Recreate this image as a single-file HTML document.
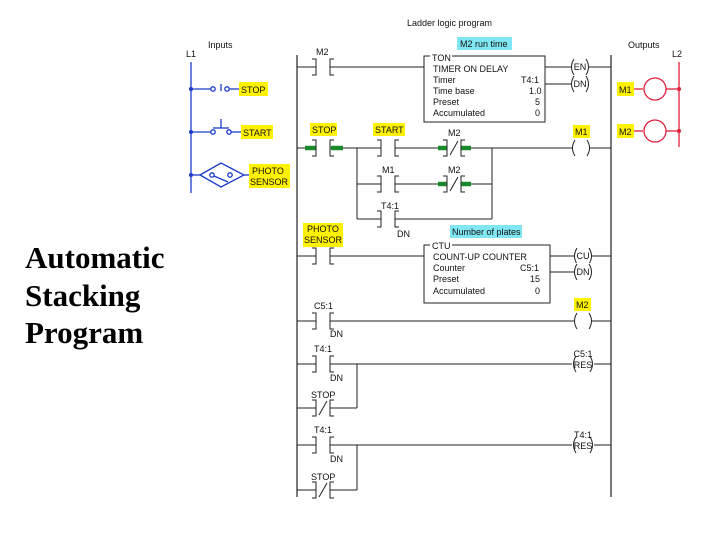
<!DOCTYPE html>
<html><head><meta charset="utf-8"><style>
html,body{margin:0;padding:0;background:#fff}
svg{display:block}
text{font-family:"Liberation Sans",Arial,sans-serif;font-size:9px;fill:#111}
.m{text-anchor:middle}
.t{font-family:"Liberation Serif",serif;font-weight:bold;font-size:31px;fill:#000}
</style></head><body>
<svg width="720" height="540" viewBox="0 0 720 540" xmlns="http://www.w3.org/2000/svg">
<defs>
<g id="no"><rect x="-7" y="-9" width="14" height="18" fill="#fff"/><path d="M-11 -8H-7V8H-11M11 -8H7V8H11" fill="none" stroke="#222" stroke-width="1"/></g>
<g id="nc"><rect x="-7" y="-9" width="14" height="18" fill="#fff"/><path d="M-11 -8H-7V8H-11M11 -8H7V8H11M-4 7L4 -7" fill="none" stroke="#222" stroke-width="1"/></g>
<g id="co"><rect x="-9" y="-9" width="18" height="18" fill="#fff"/><path d="M-6 -8Q-11 0 -6 8M6 -8Q11 0 6 8" fill="none" stroke="#222" stroke-width="1"/></g>
<g id="cw"><rect x="-11" y="-9" width="22" height="18" fill="#fff"/><path d="M-7 -8Q-12 0 -7 8M7 -8Q12 0 7 8" fill="none" stroke="#222" stroke-width="1"/></g>
</defs>

<text x="407" y="26">Ladder logic program</text>
<text x="208" y="48">Inputs</text>
<text x="186" y="57">L1</text>
<text x="628" y="48">Outputs</text>
<text x="672" y="57">L2</text>

<text class="t" x="25" y="268">Automatic</text>
<text class="t" x="25" y="306">Stacking</text>
<text class="t" x="25" y="343">Program</text>

<g stroke="#1a3cc8" stroke-width="1.3" fill="none">
<line x1="191" y1="62" x2="191" y2="193"/>
<line x1="191" y1="89" x2="211" y2="89"/>
<circle cx="213" cy="89" r="2.2"/><circle cx="227" cy="89" r="2.2"/>
<line x1="221" y1="84" x2="221" y2="91"/>
<line x1="229" y1="89" x2="240" y2="89"/>
<line x1="191" y1="132" x2="211" y2="132"/>
<circle cx="213" cy="132" r="2.2"/><circle cx="229" cy="132" r="2.2"/>
<line x1="213" y1="128" x2="229" y2="128"/><line x1="221" y1="119" x2="221" y2="128"/>
<line x1="231" y1="132" x2="242" y2="132"/>
<line x1="191" y1="175" x2="200" y2="175"/>
<path d="M200 175L221 163L244 175L221 187Z"/>
<circle cx="212" cy="175" r="2.2"/><circle cx="230" cy="175" r="2.2"/>
<line x1="214" y1="176" x2="228" y2="182"/>
<line x1="244" y1="175" x2="250" y2="175"/>
</g>
<g fill="#1a3cc8"><circle cx="191" cy="89" r="2"/><circle cx="191" cy="132" r="2"/><circle cx="191" cy="175" r="2"/></g>
<rect x="239" y="82" width="29" height="14" fill="#fff200"/><text x="241" y="93">STOP</text>
<rect x="241" y="125" width="32" height="14" fill="#fff200"/><text x="243" y="136">START</text>
<rect x="249" y="164" width="41" height="24" fill="#fff200"/><text x="252" y="174">PHOTO</text><text x="250" y="185">SENSOR</text>

<g stroke="#e0203c" stroke-width="1.3" fill="none">
<line x1="679" y1="62" x2="679" y2="147"/>
<line x1="634" y1="89" x2="643" y2="89"/><circle cx="655" cy="89" r="11"/><line x1="666" y1="89" x2="679" y2="89"/>
<line x1="634" y1="131" x2="643" y2="131"/><circle cx="655" cy="131" r="11"/><line x1="666" y1="131" x2="679" y2="131"/>
</g>
<g fill="#e0203c"><circle cx="679" cy="89" r="2"/><circle cx="679" cy="131" r="2"/></g>
<rect x="617" y="82" width="17" height="14" fill="#fff200"/><text x="619" y="93">M1</text>
<rect x="617" y="124" width="17" height="14" fill="#fff200"/><text x="619" y="135">M2</text>

<g stroke="#222" stroke-width="1.2" fill="none">
<line x1="297" y1="55" x2="297" y2="497"/>
<line x1="611" y1="55" x2="611" y2="497"/>
</g>

<g stroke="#222" stroke-width="1" fill="none">
<line x1="297" y1="67" x2="424" y2="67"/>
<line x1="545" y1="67" x2="611" y2="67"/>
<line x1="545" y1="84" x2="572" y2="84"/>
<rect x="424" y="56" width="121" height="66"/>
<line x1="297" y1="148" x2="611" y2="148"/>
<line x1="357" y1="148" x2="357" y2="219"/>
<line x1="357" y1="184" x2="492" y2="184"/>
<line x1="357" y1="219" x2="492" y2="219"/>
<line x1="492" y1="148" x2="492" y2="219"/>
<line x1="297" y1="256" x2="424" y2="256"/>
<rect x="424" y="245" width="126" height="58"/>
<line x1="550" y1="256" x2="611" y2="256"/>
<line x1="550" y1="272" x2="575" y2="272"/>
<line x1="297" y1="321" x2="611" y2="321"/>
<line x1="297" y1="364" x2="611" y2="364"/>
<line x1="297" y1="408" x2="357" y2="408"/>
<line x1="357" y1="364" x2="357" y2="408"/>
<line x1="297" y1="445" x2="611" y2="445"/>
<line x1="297" y1="490" x2="357" y2="490"/>
<line x1="357" y1="445" x2="357" y2="490"/>
</g>

<g stroke="#1a8a2a" stroke-width="4.5">
<line x1="305" y1="148" x2="316" y2="148"/><line x1="331" y1="148" x2="343" y2="148"/>
<line x1="438" y1="148" x2="448" y2="148"/><line x1="461" y1="148" x2="471" y2="148"/>
<line x1="438" y1="184" x2="448" y2="184"/><line x1="461" y1="184" x2="471" y2="184"/>
</g>

<use href="#no" x="323" y="67"/>
<use href="#no" x="323" y="148"/>
<use href="#no" x="388" y="148"/>
<use href="#nc" x="454" y="148"/>
<use href="#no" x="388" y="184"/>
<use href="#nc" x="454" y="184"/>
<use href="#no" x="388" y="219"/>
<use href="#no" x="323" y="256"/>
<use href="#no" x="323" y="321"/>
<use href="#no" x="323" y="364"/>
<use href="#nc" x="323" y="408"/>
<use href="#no" x="323" y="445"/>
<use href="#nc" x="323" y="490"/>

<use href="#co" x="580" y="67"/>
<use href="#co" x="580" y="84"/>
<use href="#co" x="581" y="148"/>
<use href="#co" x="583" y="256"/>
<use href="#co" x="583" y="272"/>
<use href="#co" x="583" y="321"/>
<use href="#cw" x="583" y="364"/>
<use href="#cw" x="583" y="445"/>
<text class="m" x="580" y="70">EN</text><text class="m" x="580" y="87">DN</text>
<text class="m" x="583" y="259">CU</text><text class="m" x="583" y="275">DN</text>
<text class="m" x="583" y="368">RES</text><text class="m" x="583" y="449">RES</text>
<text class="m" x="583" y="357">C5:1</text><text class="m" x="583" y="438">T4:1</text>

<text x="316" y="55">M2</text>
<rect x="310" y="123" width="27" height="13" fill="#fff200"/><text x="312" y="133">STOP</text>
<rect x="373" y="123" width="32" height="13" fill="#fff200"/><text x="375" y="133">START</text>
<text x="448" y="136">M2</text>
<text x="382" y="173">M1</text><text x="448" y="173">M2</text>
<text x="381" y="209">T4:1</text><text x="397" y="237">DN</text>
<rect x="303" y="223" width="40" height="24" fill="#fff200"/><text x="307" y="232">PHOTO</text><text x="304" y="243">SENSOR</text>
<text x="314" y="309">C5:1</text><text x="330" y="337">DN</text>
<text x="314" y="352">T4:1</text><text x="330" y="381">DN</text>
<text x="311" y="398">STOP</text>
<text x="314" y="433">T4:1</text><text x="330" y="462">DN</text>
<text x="311" y="480">STOP</text>
<rect x="573" y="125" width="17" height="13" fill="#fff200"/><text x="575" y="135">M1</text>
<rect x="574" y="298" width="17" height="13" fill="#fff200"/><text x="576" y="308">M2</text>

<rect x="457" y="37" width="55" height="13" fill="#7fe6f2"/><text x="460" y="47">M2 run time</text>
<rect x="430" y="52" width="22" height="8" fill="#fff"/>
<text x="432" y="61">TON</text>
<text x="433" y="72">TIMER ON DELAY</text>
<text x="433" y="83">Timer</text><text x="521" y="83">T4:1</text>
<text x="433" y="94">Time base</text><text x="529" y="94">1.0</text>
<text x="433" y="105">Preset</text><text x="535" y="105">5</text>
<text x="433" y="116">Accumulated</text><text x="535" y="116">0</text>

<rect x="450" y="225" width="72" height="13" fill="#7fe6f2"/><text x="452" y="235">Number of plates</text>
<rect x="430" y="241" width="22" height="8" fill="#fff"/>
<text x="432" y="249">CTU</text>
<text x="433" y="260">COUNT-UP COUNTER</text>
<text x="433" y="271">Counter</text><text x="520" y="271">C5:1</text>
<text x="433" y="282">Preset</text><text x="530" y="282">15</text>
<text x="433" y="294">Accumulated</text><text x="535" y="294">0</text>
</svg>
</body></html>
